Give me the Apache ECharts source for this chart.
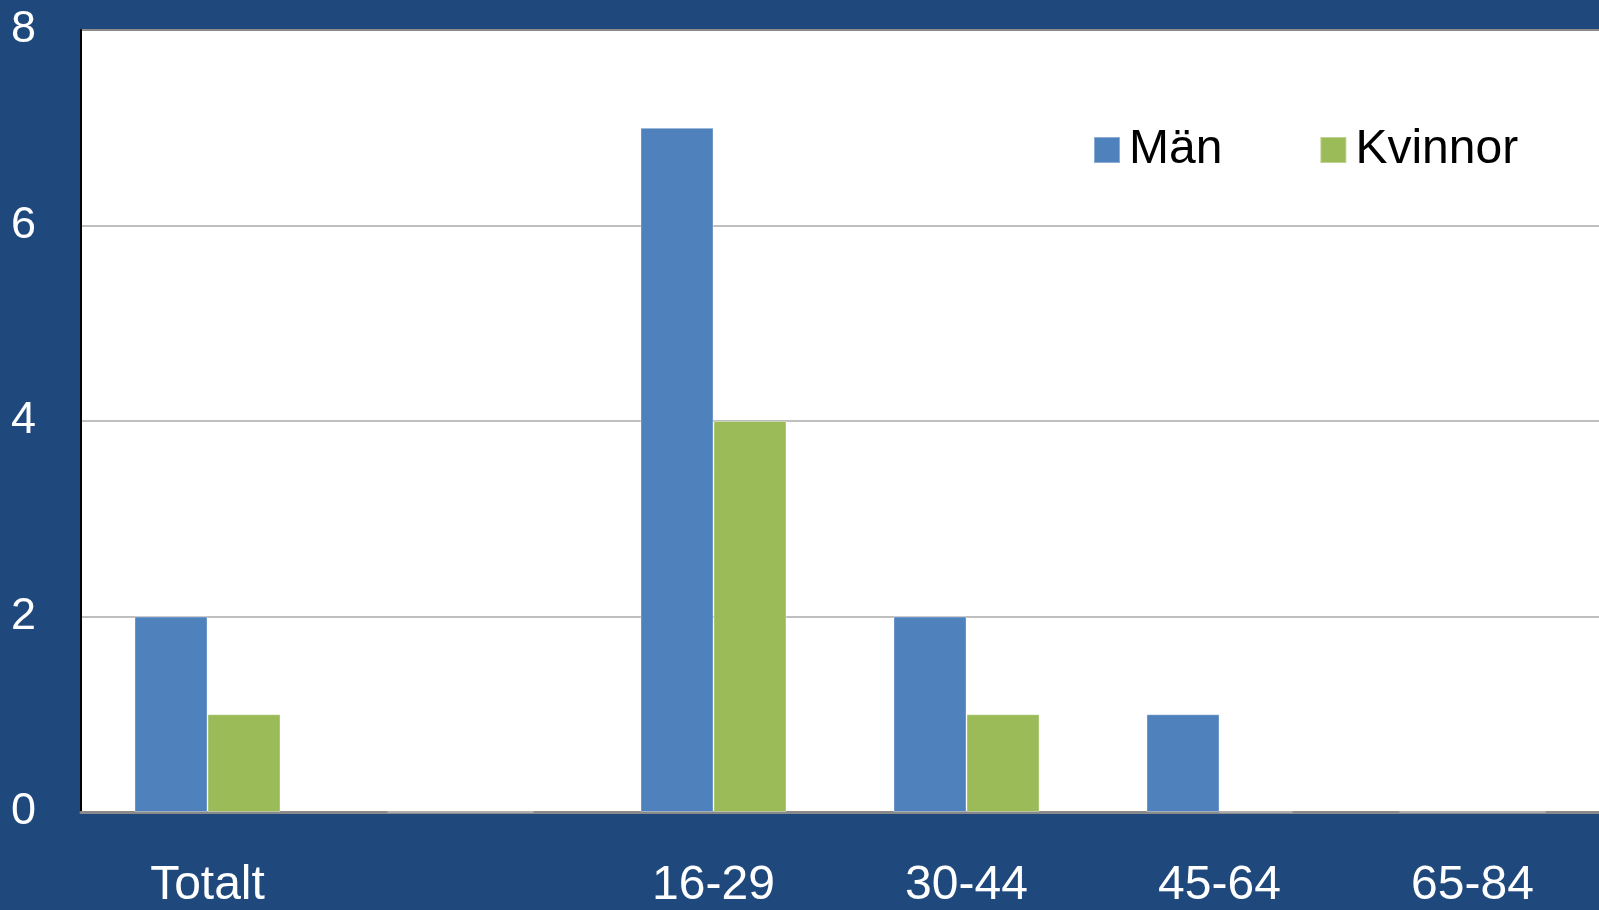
<!DOCTYPE html>
<html>
<head>
<meta charset="utf-8">
<script src="https://cdn.jsdelivr.net/npm/echarts@6/dist/echarts.min.js"></script>
<style>
html,body{margin:0;padding:0;background:#1f497d;}
#main{width:1599px;height:910px;}
</style>
</head>
<body>
<div id="main"></div>
<script>
const categories = ['Totalt', '', '16-29', '30-44', '45-64', '65-84'];
const manValues = [2, 0, 7, 2, 1, 0];
const kvinnorValues = [1, 0, 4, 1, 0, 0];
const seriesNames = ['Män', 'Kvinnor'];
const yTicks = [0, 2, 4, 6, 8];

const chart = echarts.init(document.getElementById('main'));
const font = '"Liberation Sans", Arial, Helvetica, sans-serif';
chart.setOption({
  backgroundColor: '#1f497d',
  animation: false,
  grid: {
    left: 81, top: 30, bottom: 93, right: -12,
    show: true, backgroundColor: '#ffffff', borderWidth: 0
  },
  legend: {
    data: seriesNames,
    left: 1093, top: 126, padding: 0,
    itemWidth: 26, itemHeight: 26, itemGap: 97,
    icon: 'rect',
    textStyle: { fontFamily: font, fontSize: 48, color: '#000', padding: [0, 0, 0, 4] }
  },
  xAxis: {
    type: 'category',
    data: categories,
    axisLine: { show: true, lineStyle: { color: '#8a8a8a', width: 3 } },
    axisTick: { show: false },
    axisLabel: { color: '#ffffff', fontFamily: font, fontSize: 48, margin: 50, interval: 0 },
    splitLine: { show: false }
  },
  yAxis: {
    type: 'value',
    min: yTicks[0], max: yTicks[yTicks.length - 1], interval: 2,
    axisLine: { show: true, lineStyle: { color: '#000', width: 2 } },
    axisTick: { show: false },
    axisLabel: { color: '#ffffff', fontFamily: font, fontSize: 45, align: 'left', margin: 70 },
    splitLine: { show: true, lineStyle: { color: ['#bfbfbf', '#bfbfbf', '#bfbfbf', '#bfbfbf', '#8c8c8c'], width: 2 } }
  },
  series: [
    {
      name: seriesNames[0], type: 'bar', data: manValues,
      barWidth: 73, barGap: '0%',
      itemStyle: { color: '#4f81bd', borderColor: 'rgba(255,255,255,0.35)', borderWidth: 1 }
    },
    {
      name: seriesNames[1], type: 'bar', data: kvinnorValues,
      barWidth: 73, barGap: '0%',
      itemStyle: { color: '#9bbb59', borderColor: 'rgba(255,255,255,0.35)', borderWidth: 1 }
    }
  ]
});
</script>
</body>
</html>
